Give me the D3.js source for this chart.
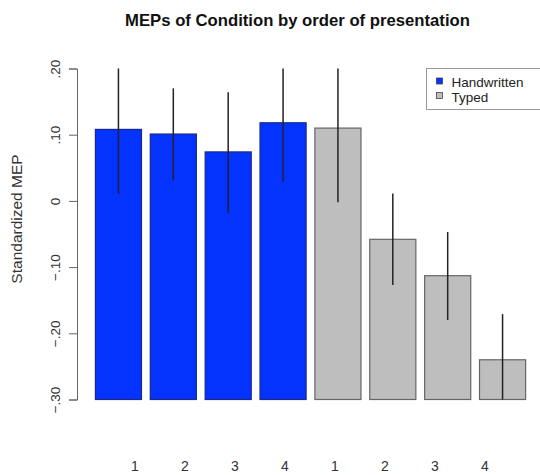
<!DOCTYPE html>
<html>
<head>
<meta charset="utf-8">
<script src="https://cdn.jsdelivr.net/npm/d3@7"></script>
<style>
  body { margin: 0; background: #fff; }
  text { font-family: "Liberation Sans", Arial, sans-serif; }
</style>
</head>
<body>
<div id="chart"></div>
<script>
var svgWidth = 540;
var svgHeight = 475;

// data
var conditions = ["Handwritten", "Handwritten", "Handwritten", "Handwritten",
                  "Typed", "Typed", "Typed", "Typed"];
var orderLabels = ["1", "2", "3", "4", "1", "2", "3", "4"];
var meanMEP = [0.108, 0.101, 0.074, 0.118, 0.110, -0.058, -0.113, -0.240];
var errLow = [0.011, 0.031, -0.018, 0.029, -0.002, -0.127, -0.180, -0.309];
var errHigh = [0.205, 0.170, 0.164, 0.207, 0.222, 0.011, -0.047, -0.171];
var yTicks = [-0.30, -0.20, -0.10, 0, 0.10, 0.20];
var legendNames = ["Handwritten", "Typed"];

var colors = { "Handwritten": "#0433ff", "Typed": "#bebebe" };

var svg = d3.select("#chart")
  .append("svg")
  .attr("width", svgWidth)
  .attr("height", svgHeight);

// y scale: -0.30 .. 0.20
var yScale = d3.scaleLinear()
  .domain([-0.30, 0.20])
  .range([399.5, 68.5]);

// bars
var xScale = d3.scaleBand()
  .domain(d3.range(meanMEP.length))
  .range([91, 530])
  .paddingInner(0.16)
  .paddingOuter(0.08);

// x labels sit on their own spacing in the original
var labelScale = d3.scalePoint()
  .domain(d3.range(orderLabels.length))
  .range([135, 485]);

// Title
svg.append("text")
  .attr("x", 297.5)
  .attr("y", 26)
  .attr("text-anchor", "middle")
  .attr("font-size", "16.7px")
  .attr("font-weight", "bold")
  .attr("fill", "#111")
  .text("MEPs of Condition by order of presentation");

// y axis
var leftAxis = d3.axisLeft(yScale)
  .tickValues(yTicks)
  .tickSize(8)
  .tickFormat(function(d) {
    if (d === 0) return "0";
    return d3.format(".2f")(d).replace("0.", ".");
  });

var yAxisG = svg.append("g")
  .attr("transform", "translate(77, 0)")
  .call(leftAxis);

yAxisG.select(".domain").attr("stroke", "#666");
yAxisG.selectAll(".tick line").attr("stroke", "#666");
yAxisG.selectAll(".tick text")
  .attr("font-size", "13.5px")
  .attr("fill", "#333")
  .attr("transform", "rotate(-90)")
  .attr("x", 0)
  .attr("y", -22)
  .attr("dy", "0.35em")
  .attr("text-anchor", "middle");

// y title
svg.append("text")
  .attr("transform", "translate(22, 219) rotate(-90)")
  .attr("text-anchor", "middle")
  .attr("font-size", "15.5px")
  .attr("fill", "#333")
  .text("Standardized MEP");

// bars
svg.selectAll(".bar")
  .data(meanMEP)
  .enter()
  .append("rect")
  .attr("class", "bar")
  .attr("x", (d, i) => xScale(i))
  .attr("width", xScale.bandwidth())
  .attr("y", d => yScale(d))
  .attr("height", d => yScale(-0.30) - yScale(d))
  .attr("fill", (d, i) => colors[conditions[i]])
  .attr("stroke", (d, i) => conditions[i] === "Typed" ? "#666" : "#1a2a8a")
  .attr("stroke-width", 1.2);

// error bars, clipped to the plot range
svg.selectAll(".err")
  .data(meanMEP)
  .enter()
  .append("line")
  .attr("class", "err")
  .attr("x1", (d, i) => xScale(i) + xScale.bandwidth() / 2)
  .attr("x2", (d, i) => xScale(i) + xScale.bandwidth() / 2)
  .attr("y1", (d, i) => yScale(Math.min(errHigh[i], 0.20)))
  .attr("y2", (d, i) => yScale(Math.max(errLow[i], -0.30)))
  .attr("stroke", "#222")
  .attr("stroke-width", 1.5);

// x labels
svg.selectAll(".xlab")
  .data(orderLabels)
  .enter()
  .append("text")
  .attr("class", "xlab")
  .attr("x", (d, i) => labelScale(i))
  .attr("y", 471)
  .attr("text-anchor", "middle")
  .attr("font-size", "14px")
  .attr("fill", "#333")
  .text(d => d);

// legend
var legend = svg.append("g").attr("transform", "translate(426.5, 68.5)");
legend.append("rect")
  .attr("width", 130)
  .attr("height", 41)
  .attr("fill", "#fff")
  .attr("stroke", "#999");

legend.selectAll(".lkey")
  .data(legendNames)
  .enter()
  .append("rect")
  .attr("x", 10)
  .attr("y", (d, i) => 9.5 + i * 14.5)
  .attr("width", 6)
  .attr("height", 6)
  .attr("fill", d => colors[d])
  .attr("stroke", "#444")
  .attr("stroke-width", 0.8);

legend.selectAll(".ltext")
  .data(legendNames)
  .enter()
  .append("text")
  .attr("x", 25)
  .attr("y", (d, i) => 18.5 + i * 14.5)
  .attr("font-size", "13.5px")
  .attr("fill", "#222")
  .text(d => d);
</script>
</body>
</html>
